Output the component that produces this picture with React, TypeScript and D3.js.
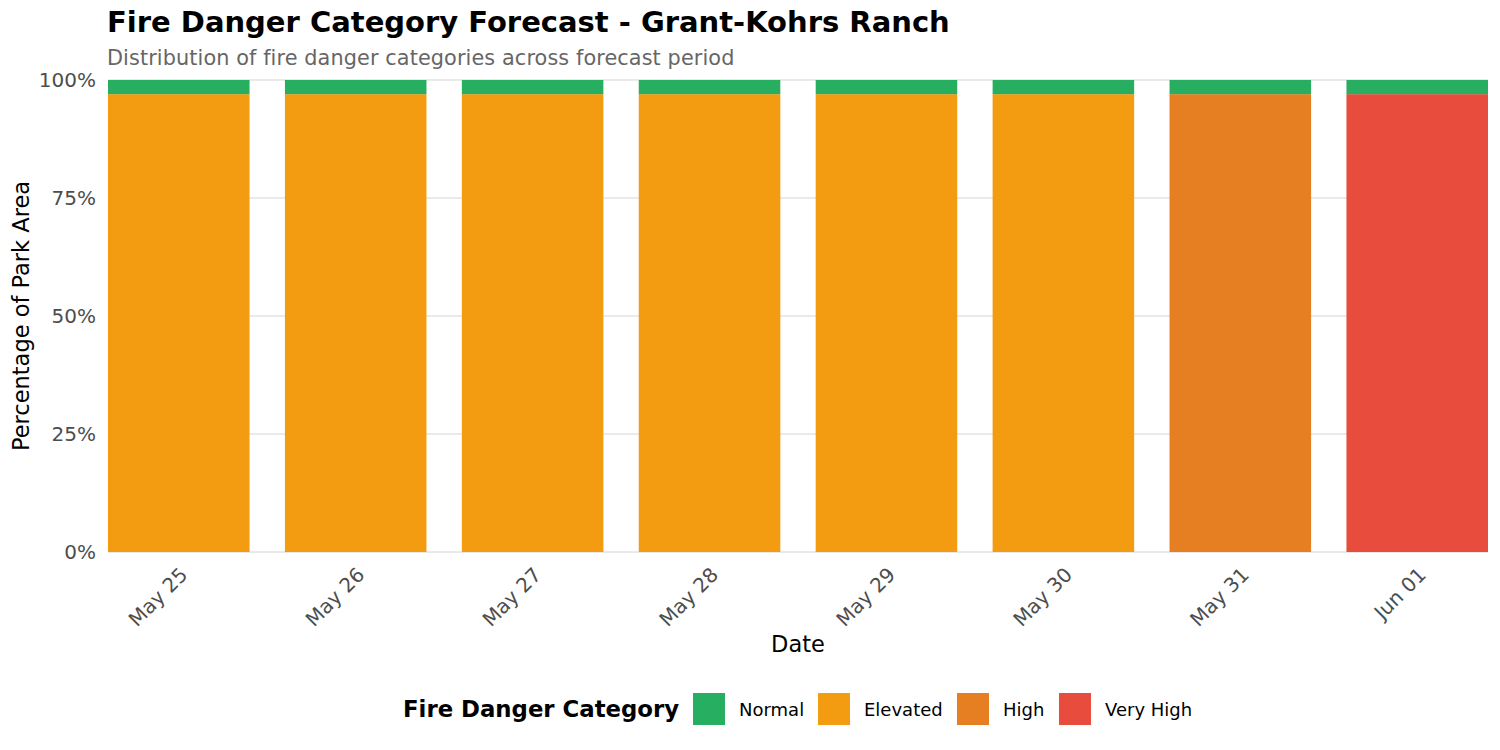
import React, { useEffect, useRef } from 'react';
import * as d3 from 'd3';

const dates = ['May 25', 'May 26', 'May 27', 'May 28', 'May 29', 'May 30', 'May 31', 'Jun 01'];
const categories = ['Normal', 'Elevated', 'High', 'Very High'];
const colors = ['#27AE60', '#F39C12', '#E67E22', '#E74C3C'];
// percent of park area per category, per date
const normalPct = [3, 3, 3, 3, 3, 3, 3, 3];
const elevatedPct = [97, 97, 97, 97, 97, 97, 0, 0];
const highPct = [0, 0, 0, 0, 0, 0, 97, 0];
const veryHighPct = [0, 0, 0, 0, 0, 0, 0, 97];
const yTicks = [0, 25, 50, 75, 100];

const FONT = 'DejaVu Sans, sans-serif';

const App: React.FC = () => {
  const svgRef = useRef<SVGSVGElement | null>(null);

  useEffect(() => {
    const width = 1500;
    const height = 750;
    const margin = { top: 80, right: 12, bottom: 198, left: 108 };

    const svg = d3.select(svgRef.current)
      .attr('width', width)
      .attr('height', height)
      .style('font-family', FONT);

    svg.selectAll('*').remove();

    const rows = dates.map((d, i) => ({
      date: d,
      Normal: normalPct[i],
      Elevated: elevatedPct[i],
      High: highPct[i],
      'Very High': veryHighPct[i],
    }));

    // stack from bottom: Very High, High, Elevated, Normal on top
    const stackOrder = ['Very High', 'High', 'Elevated', 'Normal'];
    const series = d3.stack<any>().keys(stackOrder)(rows);

    const x = d3.scaleBand()
      .domain(dates)
      .range([margin.left, width - margin.right])
      .paddingInner(0.2)
      .paddingOuter(0);

    const y = d3.scaleLinear()
      .domain([0, 100])
      .range([height - margin.bottom, margin.top]);

    const color = d3.scaleOrdinal<string, string>().domain(categories).range(colors);

    // gridlines
    svg.append('g')
      .selectAll('line')
      .data(yTicks)
      .join('line')
      .attr('x1', margin.left)
      .attr('x2', width - margin.right)
      .attr('y1', (d) => y(d))
      .attr('y2', (d) => y(d))
      .attr('stroke', '#e3e3e3')
      .attr('stroke-width', 1.5);

    // bars
    svg.append('g')
      .selectAll('g')
      .data(series)
      .join('g')
      .attr('fill', (s) => color(s.key))
      .selectAll('rect')
      .data((s) => s)
      .join('rect')
      .attr('x', (d: any) => x(d.data.date)!)
      .attr('width', x.bandwidth())
      .attr('y', (d) => y(d[1]))
      .attr('height', (d) => y(d[0]) - y(d[1]));

    // y axis labels
    const yAxis = d3.axisLeft(y).tickValues(yTicks).tickSize(0).tickPadding(12)
      .tickFormat((d) => `${d}%`);
    svg.append('g')
      .attr('transform', `translate(${margin.left},0)`)
      .call(yAxis)
      .call((g) => g.select('.domain').remove())
      .selectAll('text')
      .style('font-family', FONT)
      .style('font-size', '20px')
      .attr('fill', '#4d4d4d');

    // x axis labels
    const xAxis = d3.axisBottom(x).tickSize(0).tickPadding(0);
    svg.append('g')
      .attr('transform', `translate(0,${height - margin.bottom})`)
      .call(xAxis)
      .call((g) => g.select('.domain').remove())
      .selectAll('text')
      .style('font-family', FONT)
      .style('font-size', '20px')
      .attr('fill', '#4d4d4d')
      .attr('dy', null)
      .attr('y', null)
      .attr('text-anchor', 'end')
      .attr('transform', 'translate(10,24) rotate(-45)');

    // titles
    svg.append('text')
      .attr('x', 107)
      .attr('y', 32)
      .style('font-size', '29px')
      .style('font-weight', 'bold')
      .attr('fill', '#000')
      .text('Fire Danger Category Forecast - Grant-Kohrs Ranch');

    svg.append('text')
      .attr('x', 107)
      .attr('y', 65)
      .style('font-size', '20.8px')
      .style('letter-spacing', '0.1px')
      .attr('fill', '#666666')
      .text('Distribution of fire danger categories across forecast period');

    svg.append('text')
      .attr('x', (margin.left + width - margin.right) / 2)
      .attr('y', 652)
      .attr('text-anchor', 'middle')
      .style('font-size', '22.5px')
      .attr('fill', '#000')
      .text('Date');

    svg.append('text')
      .attr('transform', `translate(29,${y(50)}) rotate(-90)`)
      .attr('text-anchor', 'middle')
      .style('font-size', '22.5px')
      .attr('fill', '#000')
      .text('Percentage of Park Area');

    // legend
    const legend = svg.append('g');
    legend.append('text')
      .attr('x', 403)
      .attr('y', 717)
      .style('font-size', '22.8px')
      .style('font-weight', 'bold')
      .attr('fill', '#000')
      .text('Fire Danger Category');

    const keyX = [693, 818, 957, 1059];
    const items = legend.selectAll('g.item')
      .data(categories)
      .join('g')
      .attr('class', 'item')
      .attr('transform', (_, i) => `translate(${keyX[i]},693)`);
    items.append('rect')
      .attr('width', 32)
      .attr('height', 32)
      .attr('fill', (d) => color(d));
    items.append('text')
      .attr('x', 46)
      .attr('y', 23)
      .style('font-size', '18px')
      .attr('fill', '#000')
      .text((d) => d);
  }, []);

  return <svg ref={svgRef} style={{ display: 'block', margin: '-8px' }}></svg>;
};

export default App;
